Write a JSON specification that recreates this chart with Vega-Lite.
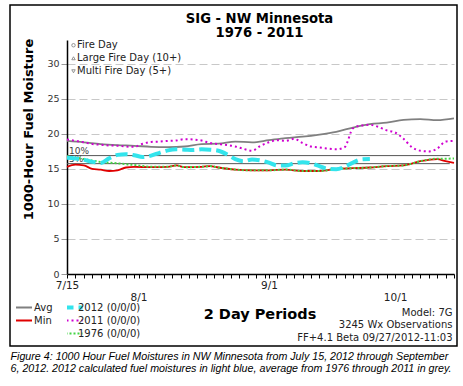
{
  "$schema": "https://vega.github.io/schema/vega-lite/v6.json",
  "width": 447,
  "height": 341,
  "autosize": {"type": "none"},
  "padding": {"left": 10, "top": 5, "right": 6, "bottom": 40},
  "background": "white",
  "title": {
    "text": ["SIG - NW Minnesota", "1976 - 2011"],
    "anchor": "middle",
    "frame": "group",
    "dx": 26,
    "offset": -35,
    "baseline": "top",
    "font": "DejaVu Sans",
    "fontSize": 13.2,
    "fontWeight": "bold",
    "color": "black",
    "lineHeight": 13.5
  },
  "datasets": {
    "thresholds": [
      {"label": "10%", "value": 16.9},
      {"label": "5%", "value": 15.75}
    ],
    "moisture": [
      {"series": "Avg", "date": "2012-07-15", "value": 19.0},
      {"series": "Avg", "date": "2012-07-19", "value": 18.8},
      {"series": "Avg", "date": "2012-07-23", "value": 18.55},
      {"series": "Avg", "date": "2012-07-27", "value": 18.4},
      {"series": "Avg", "date": "2012-07-31", "value": 18.3},
      {"series": "Avg", "date": "2012-08-04", "value": 18.15},
      {"series": "Avg", "date": "2012-08-08", "value": 18.1},
      {"series": "Avg", "date": "2012-08-12", "value": 18.2},
      {"series": "Avg", "date": "2012-08-16", "value": 18.55},
      {"series": "Avg", "date": "2012-08-20", "value": 18.6},
      {"series": "Avg", "date": "2012-08-24", "value": 18.9},
      {"series": "Avg", "date": "2012-08-28", "value": 18.8},
      {"series": "Avg", "date": "2012-09-01", "value": 19.1},
      {"series": "Avg", "date": "2012-09-05", "value": 19.4},
      {"series": "Avg", "date": "2012-09-09", "value": 19.6},
      {"series": "Avg", "date": "2012-09-13", "value": 19.9},
      {"series": "Avg", "date": "2012-09-17", "value": 20.3},
      {"series": "Avg", "date": "2012-09-21", "value": 20.9},
      {"series": "Avg", "date": "2012-09-25", "value": 21.4},
      {"series": "Avg", "date": "2012-09-29", "value": 21.6},
      {"series": "Avg", "date": "2012-10-03", "value": 22.0},
      {"series": "Avg", "date": "2012-10-07", "value": 22.1},
      {"series": "Avg", "date": "2012-10-11", "value": 21.95},
      {"series": "Avg", "date": "2012-10-15", "value": 22.2},

      {"series": "Min", "date": "2012-07-15", "value": 15.3},
      {"series": "Min", "date": "2012-07-17", "value": 15.6},
      {"series": "Min", "date": "2012-07-19", "value": 15.5},
      {"series": "Min", "date": "2012-07-21", "value": 15.0},
      {"series": "Min", "date": "2012-07-23", "value": 14.9},
      {"series": "Min", "date": "2012-07-25", "value": 14.7},
      {"series": "Min", "date": "2012-07-27", "value": 14.8},
      {"series": "Min", "date": "2012-07-29", "value": 15.2},
      {"series": "Min", "date": "2012-07-31", "value": 15.3},
      {"series": "Min", "date": "2012-08-04", "value": 15.25},
      {"series": "Min", "date": "2012-08-08", "value": 15.3},
      {"series": "Min", "date": "2012-08-10", "value": 15.5},
      {"series": "Min", "date": "2012-08-12", "value": 15.25},
      {"series": "Min", "date": "2012-08-16", "value": 15.3},
      {"series": "Min", "date": "2012-08-18", "value": 15.4},
      {"series": "Min", "date": "2012-08-20", "value": 15.2},
      {"series": "Min", "date": "2012-08-24", "value": 14.9},
      {"series": "Min", "date": "2012-08-28", "value": 14.8},
      {"series": "Min", "date": "2012-09-01", "value": 14.8},
      {"series": "Min", "date": "2012-09-05", "value": 14.9},
      {"series": "Min", "date": "2012-09-09", "value": 14.7},
      {"series": "Min", "date": "2012-09-13", "value": 14.7},
      {"series": "Min", "date": "2012-09-17", "value": 15.0},
      {"series": "Min", "date": "2012-09-21", "value": 15.1},
      {"series": "Min", "date": "2012-09-25", "value": 15.2},
      {"series": "Min", "date": "2012-09-29", "value": 15.4},
      {"series": "Min", "date": "2012-10-03", "value": 15.5},
      {"series": "Min", "date": "2012-10-07", "value": 16.1},
      {"series": "Min", "date": "2012-10-11", "value": 16.4},
      {"series": "Min", "date": "2012-10-13", "value": 16.1},
      {"series": "Min", "date": "2012-10-15", "value": 15.85},

      {"series": "1976 (0/0/0)", "date": "2012-07-15", "value": 16.8},
      {"series": "1976 (0/0/0)", "date": "2012-07-19", "value": 16.4},
      {"series": "1976 (0/0/0)", "date": "2012-07-23", "value": 16.0},
      {"series": "1976 (0/0/0)", "date": "2012-07-27", "value": 15.8},
      {"series": "1976 (0/0/0)", "date": "2012-07-31", "value": 15.55},
      {"series": "1976 (0/0/0)", "date": "2012-08-04", "value": 15.3},
      {"series": "1976 (0/0/0)", "date": "2012-08-08", "value": 15.3},
      {"series": "1976 (0/0/0)", "date": "2012-08-10", "value": 15.5},
      {"series": "1976 (0/0/0)", "date": "2012-08-12", "value": 15.25},
      {"series": "1976 (0/0/0)", "date": "2012-08-16", "value": 15.3},
      {"series": "1976 (0/0/0)", "date": "2012-08-18", "value": 15.4},
      {"series": "1976 (0/0/0)", "date": "2012-08-20", "value": 15.2},
      {"series": "1976 (0/0/0)", "date": "2012-08-24", "value": 14.9},
      {"series": "1976 (0/0/0)", "date": "2012-08-28", "value": 14.8},
      {"series": "1976 (0/0/0)", "date": "2012-09-01", "value": 14.8},
      {"series": "1976 (0/0/0)", "date": "2012-09-05", "value": 14.9},
      {"series": "1976 (0/0/0)", "date": "2012-09-09", "value": 14.7},
      {"series": "1976 (0/0/0)", "date": "2012-09-13", "value": 14.7},
      {"series": "1976 (0/0/0)", "date": "2012-09-17", "value": 15.0},
      {"series": "1976 (0/0/0)", "date": "2012-09-21", "value": 15.1},
      {"series": "1976 (0/0/0)", "date": "2012-09-25", "value": 15.2},
      {"series": "1976 (0/0/0)", "date": "2012-09-29", "value": 15.4},
      {"series": "1976 (0/0/0)", "date": "2012-10-03", "value": 15.5},
      {"series": "1976 (0/0/0)", "date": "2012-10-07", "value": 16.1},
      {"series": "1976 (0/0/0)", "date": "2012-10-11", "value": 16.45},
      {"series": "1976 (0/0/0)", "date": "2012-10-13", "value": 16.45},
      {"series": "1976 (0/0/0)", "date": "2012-10-15", "value": 16.5},

      {"series": "2011 (0/0/0)", "date": "2012-07-15", "value": 19.2},
      {"series": "2011 (0/0/0)", "date": "2012-07-17", "value": 19.0},
      {"series": "2011 (0/0/0)", "date": "2012-07-19", "value": 18.8},
      {"series": "2011 (0/0/0)", "date": "2012-07-21", "value": 18.55},
      {"series": "2011 (0/0/0)", "date": "2012-07-23", "value": 18.45},
      {"series": "2011 (0/0/0)", "date": "2012-07-25", "value": 18.35},
      {"series": "2011 (0/0/0)", "date": "2012-07-27", "value": 18.3},
      {"series": "2011 (0/0/0)", "date": "2012-07-29", "value": 18.2},
      {"series": "2011 (0/0/0)", "date": "2012-07-31", "value": 18.15},
      {"series": "2011 (0/0/0)", "date": "2012-08-02", "value": 18.6},
      {"series": "2011 (0/0/0)", "date": "2012-08-04", "value": 18.85},
      {"series": "2011 (0/0/0)", "date": "2012-08-06", "value": 18.9},
      {"series": "2011 (0/0/0)", "date": "2012-08-08", "value": 19.0},
      {"series": "2011 (0/0/0)", "date": "2012-08-10", "value": 19.05},
      {"series": "2011 (0/0/0)", "date": "2012-08-12", "value": 19.25},
      {"series": "2011 (0/0/0)", "date": "2012-08-14", "value": 19.2},
      {"series": "2011 (0/0/0)", "date": "2012-08-16", "value": 19.05},
      {"series": "2011 (0/0/0)", "date": "2012-08-18", "value": 18.7},
      {"series": "2011 (0/0/0)", "date": "2012-08-20", "value": 18.55},
      {"series": "2011 (0/0/0)", "date": "2012-08-22", "value": 18.4},
      {"series": "2011 (0/0/0)", "date": "2012-08-24", "value": 18.2},
      {"series": "2011 (0/0/0)", "date": "2012-08-26", "value": 17.85},
      {"series": "2011 (0/0/0)", "date": "2012-08-28", "value": 17.6},
      {"series": "2011 (0/0/0)", "date": "2012-08-30", "value": 18.3},
      {"series": "2011 (0/0/0)", "date": "2012-09-01", "value": 18.8},
      {"series": "2011 (0/0/0)", "date": "2012-09-03", "value": 19.1},
      {"series": "2011 (0/0/0)", "date": "2012-09-05", "value": 19.0},
      {"series": "2011 (0/0/0)", "date": "2012-09-07", "value": 19.3},
      {"series": "2011 (0/0/0)", "date": "2012-09-09", "value": 18.7},
      {"series": "2011 (0/0/0)", "date": "2012-09-11", "value": 18.2},
      {"series": "2011 (0/0/0)", "date": "2012-09-13", "value": 18.05},
      {"series": "2011 (0/0/0)", "date": "2012-09-15", "value": 17.9},
      {"series": "2011 (0/0/0)", "date": "2012-09-17", "value": 17.8},
      {"series": "2011 (0/0/0)", "date": "2012-09-19", "value": 18.1},
      {"series": "2011 (0/0/0)", "date": "2012-09-21", "value": 20.8},
      {"series": "2011 (0/0/0)", "date": "2012-09-23", "value": 21.2},
      {"series": "2011 (0/0/0)", "date": "2012-09-25", "value": 21.3},
      {"series": "2011 (0/0/0)", "date": "2012-09-27", "value": 21.0},
      {"series": "2011 (0/0/0)", "date": "2012-09-29", "value": 20.5},
      {"series": "2011 (0/0/0)", "date": "2012-10-01", "value": 20.2},
      {"series": "2011 (0/0/0)", "date": "2012-10-03", "value": 19.3},
      {"series": "2011 (0/0/0)", "date": "2012-10-05", "value": 18.1},
      {"series": "2011 (0/0/0)", "date": "2012-10-07", "value": 17.6},
      {"series": "2011 (0/0/0)", "date": "2012-10-09", "value": 17.5},
      {"series": "2011 (0/0/0)", "date": "2012-10-11", "value": 17.9},
      {"series": "2011 (0/0/0)", "date": "2012-10-13", "value": 18.9},
      {"series": "2011 (0/0/0)", "date": "2012-10-15", "value": 19.0},

      {"series": "2012 (0/0/0)", "date": "2012-07-15", "value": 16.6},
      {"series": "2012 (0/0/0)", "date": "2012-07-17", "value": 16.5},
      {"series": "2012 (0/0/0)", "date": "2012-07-19", "value": 16.3},
      {"series": "2012 (0/0/0)", "date": "2012-07-21", "value": 16.0},
      {"series": "2012 (0/0/0)", "date": "2012-07-23", "value": 15.85},
      {"series": "2012 (0/0/0)", "date": "2012-07-25", "value": 16.5},
      {"series": "2012 (0/0/0)", "date": "2012-07-27", "value": 17.0},
      {"series": "2012 (0/0/0)", "date": "2012-07-29", "value": 17.1},
      {"series": "2012 (0/0/0)", "date": "2012-07-31", "value": 16.95},
      {"series": "2012 (0/0/0)", "date": "2012-08-02", "value": 16.7},
      {"series": "2012 (0/0/0)", "date": "2012-08-04", "value": 16.9},
      {"series": "2012 (0/0/0)", "date": "2012-08-06", "value": 17.3},
      {"series": "2012 (0/0/0)", "date": "2012-08-08", "value": 17.65},
      {"series": "2012 (0/0/0)", "date": "2012-08-10", "value": 17.8},
      {"series": "2012 (0/0/0)", "date": "2012-08-12", "value": 17.75},
      {"series": "2012 (0/0/0)", "date": "2012-08-14", "value": 17.7},
      {"series": "2012 (0/0/0)", "date": "2012-08-16", "value": 17.8},
      {"series": "2012 (0/0/0)", "date": "2012-08-18", "value": 17.75},
      {"series": "2012 (0/0/0)", "date": "2012-08-20", "value": 17.6},
      {"series": "2012 (0/0/0)", "date": "2012-08-22", "value": 17.1},
      {"series": "2012 (0/0/0)", "date": "2012-08-24", "value": 16.4},
      {"series": "2012 (0/0/0)", "date": "2012-08-26", "value": 16.1},
      {"series": "2012 (0/0/0)", "date": "2012-08-28", "value": 16.35},
      {"series": "2012 (0/0/0)", "date": "2012-08-30", "value": 16.2},
      {"series": "2012 (0/0/0)", "date": "2012-09-01", "value": 15.9},
      {"series": "2012 (0/0/0)", "date": "2012-09-03", "value": 15.5},
      {"series": "2012 (0/0/0)", "date": "2012-09-05", "value": 15.5},
      {"series": "2012 (0/0/0)", "date": "2012-09-07", "value": 15.8},
      {"series": "2012 (0/0/0)", "date": "2012-09-09", "value": 15.95},
      {"series": "2012 (0/0/0)", "date": "2012-09-11", "value": 15.8},
      {"series": "2012 (0/0/0)", "date": "2012-09-13", "value": 15.4},
      {"series": "2012 (0/0/0)", "date": "2012-09-15", "value": 15.0},
      {"series": "2012 (0/0/0)", "date": "2012-09-17", "value": 14.95},
      {"series": "2012 (0/0/0)", "date": "2012-09-19", "value": 15.3},
      {"series": "2012 (0/0/0)", "date": "2012-09-21", "value": 15.9},
      {"series": "2012 (0/0/0)", "date": "2012-09-23", "value": 16.35},
      {"series": "2012 (0/0/0)", "date": "2012-09-25", "value": 16.4}
    ]
  },
  "layer": [
    {
      "data": {"name": "thresholds"},
      "mark": {"type": "rule", "color": "#555555", "strokeWidth": 1},
      "encoding": {
        "x": {
          "datum": {"year": 2012, "month": 7, "date": 15, "utc": true},
          "type": "temporal",
          "axis": {
            "orient": "bottom",
            "offset": -72,
            "domain": false,
            "ticks": false,
            "labels": false,
            "grid": false,
            "title": [
              "Figure 4:  1000 Hour Fuel Moistures in NW Minnesota from July 15, 2012 through September",
              "6, 2012.  2012 calculated fuel moistures in light blue, average from 1976 through 2011 in grey."
            ],
            "titleX": 0,
            "titleY": 77,
            "titleAlign": "left",
            "titleAnchor": "start",
            "titleBaseline": "top",
            "titleFont": "Liberation Sans",
            "titleFontSize": 10.7,
            "titleFontStyle": "italic",
            "titleFontWeight": "normal",
            "titleColor": "black",
            "titleLineHeight": 12.5,
            "titleLimit": 0
          }
        },
        "x2": {"datum": {"year": 2012, "month": 10, "date": 14, "utc": true}},
        "y": {
          "field": "value",
          "type": "quantitative",
          "axis": {
            "orient": "right",
            "offset": -3,
            "domain": false,
            "ticks": false,
            "labels": false,
            "grid": false,
            "title": ["Model: 7G", "3245 Wx Observations", "FF+4.1 Beta 09/27/2012-11:03"],
            "titleAngle": 0,
            "titleAlign": "right",
            "titleBaseline": "top",
            "titleX": -2,
            "titleY": 302,
            "titleFont": "DejaVu Sans",
            "titleFontSize": 10,
            "titleFontWeight": "normal",
            "titleColor": "#222222",
            "titleLineHeight": 12.5,
            "titleLimit": 0
          }
        }
      }
    },
    {
      "data": {"name": "thresholds"},
      "mark": {"type": "text", "align": "left", "baseline": "bottom", "dx": 2, "font": "DejaVu Sans", "fontSize": 9, "color": "#444444"},
      "encoding": {
        "x": {"datum": {"year": 2012, "month": 7, "date": 15, "utc": true}, "type": "temporal", "axis": null},
        "y": {"field": "value", "type": "quantitative", "axis": null},
        "text": {"field": "label"}
      }
    },
    {
      "data": {"name": "moisture"},
      "transform": [{"filter": {"field": "series", "oneOf": ["Avg", "Min"]}}],
      "mark": {"type": "line", "interpolate": "monotone", "strokeWidth": 1.8},
      "encoding": {
        "x": {
          "field": "date",
          "type": "temporal",
          "scale": {
            "type": "utc",
            "domain": [{"year": 2012, "month": 7, "date": 15, "utc": true}, {"year": 2012, "month": 10, "date": 15, "utc": true}],
            "range": [57, 444]
          },
          "axis": {
            "orient": "bottom",
            "offset": -72,
            "tickCount": {"interval": "day", "step": 2},
            "labelExpr": "utcdate(datum.value) == 1 || (utcmonth(datum.value) == 6 && utcdate(datum.value) == 15) ? utcFormat(datum.value, '%-m/%-d') : ''",
            "labelOverlap": false,
            "labelFlush": false,
            "labelBound": false,
            "labelFont": "DejaVu Sans",
            "labelFontSize": 10.5,
            "labelColor": "#222222",
            "labelPadding": {"condition": {"test": "utcdate(datum.value) == 1 && utcmonth(datum.value) != 8", "value": 14}, "value": 2},
            "tickSize": 4,
            "tickColor": "black",
            "tickWidth": 1,
            "domainColor": "black",
            "domainWidth": 1.5,
            "grid": false,
            "title": "2 Day Periods",
            "titleX": 249.5,
            "titleY": 40,
            "titleAlign": "center",
            "titleBaseline": "middle",
            "titleFont": "DejaVu Sans",
            "titleFontSize": 14.5,
            "titleFontWeight": "bold",
            "titleColor": "black"
          }
        },
        "y": {
          "field": "value",
          "type": "quantitative",
          "scale": {"domain": [0, 33.4], "range": [269, 35], "nice": false, "zero": false},
          "axis": {
            "orient": "left",
            "offset": -57,
            "values": [0, 5, 10, 15, 20, 25, 30],
            "grid": true,
            "gridColor": "#c8c8c8",
            "gridDash": [8, 4],
            "gridWidth": 1,
            "domainColor": "black",
            "domainWidth": 1.5,
            "tickSize": 6,
            "tickColor": "#999999",
            "labelFont": "DejaVu Sans",
            "labelFontSize": 9.5,
            "labelColor": "#333333",
            "labelPadding": 2,
            "title": "1000-Hour Fuel Moisture",
            "titleX": -39,
            "titleY": 124,
            "titleAngle": -90,
            "titleAlign": "center",
            "titleBaseline": "middle",
            "titleFont": "DejaVu Sans",
            "titleFontSize": 13,
            "titleFontWeight": "bold",
            "titleColor": "black"
          }
        },
        "color": {
          "field": "series",
          "type": "nominal",
          "scale": {"domain": ["Avg", "Min"], "range": ["#808080", "#e00000"]},
          "legend": {
            "orient": "none",
            "legendX": 5,
            "legendY": 297,
            "title": null,
            "symbolType": "stroke",
            "symbolSize": 256,
            "symbolStrokeWidth": 2,
            "labelOffset": 1,
            "clipHeight": 11,
            "rowPadding": 2,
            "padding": 0,
            "labelFont": "DejaVu Sans",
            "labelFontSize": 10,
            "labelColor": "#222222"
          }
        }
      }
    },
    {
      "data": {"name": "moisture"},
      "transform": [{"filter": {"field": "series", "oneOf": ["2011 (0/0/0)", "1976 (0/0/0)"]}}],
      "mark": {"type": "line", "interpolate": "monotone", "strokeWidth": 2},
      "encoding": {
        "x": {"field": "date", "type": "temporal", "axis": null},
        "y": {"field": "value", "type": "quantitative", "axis": null},
        "stroke": {
          "field": "series",
          "type": "nominal",
          "scale": {"domain": ["2012 (0/0/0)", "2011 (0/0/0)", "1976 (0/0/0)"], "range": ["#33e4ec", "#d000d0", "#44d444"]},
          "legend": {
            "orient": "none",
            "legendX": 57,
            "legendY": 297,
            "title": null,
            "symbolType": "stroke",
            "symbolSize": 441,
            "symbolStrokeWidth": 2,
            "labelOffset": 1,
            "clipHeight": 11,
            "rowPadding": 2,
            "padding": 0,
            "labelFont": "DejaVu Sans",
            "labelFontSize": 10,
            "labelColor": "#222222",
            "encode": {"symbols": {"update": {"strokeWidth": {"signal": "datum.value === '2012 (0/0/0)' ? 4 : 2"}}}}
          }
        },
        "strokeDash": {
          "field": "series",
          "type": "nominal",
          "scale": {"domain": ["2012 (0/0/0)", "2011 (0/0/0)", "1976 (0/0/0)"], "range": [[12, 5], [2, 3], [2, 2]]},
          "legend": {
            "orient": "none",
            "legendX": 57,
            "legendY": 297,
            "title": null,
            "symbolType": "stroke",
            "symbolSize": 441,
            "symbolStrokeWidth": 2,
            "labelOffset": 1,
            "clipHeight": 11,
            "rowPadding": 2,
            "padding": 0,
            "labelFont": "DejaVu Sans",
            "labelFontSize": 10,
            "labelColor": "#222222",
            "encode": {"symbols": {"update": {"strokeWidth": {"signal": "datum.value === '2012 (0/0/0)' ? 4 : 2"}}}}
          }
        }
      }
    },
    {
      "data": {"name": "moisture"},
      "transform": [{"filter": {"field": "series", "equal": "2012 (0/0/0)"}}],
      "mark": {"type": "line", "interpolate": "monotone", "strokeWidth": 4},
      "encoding": {
        "x": {"field": "date", "type": "temporal", "axis": null},
        "y": {"field": "value", "type": "quantitative", "axis": null},
        "stroke": {"field": "series", "type": "nominal"},
        "strokeDash": {"field": "series", "type": "nominal"}
      }
    },
    {
      "data": {"values": []},
      "mark": {"type": "point", "color": "#444444", "strokeWidth": 0.8, "size": 12},
      "encoding": {
        "x": {"field": "date", "type": "temporal", "axis": null},
        "y": {"field": "value", "type": "quantitative", "axis": null},
        "shape": {
          "field": "event",
          "type": "nominal",
          "scale": {"domain": ["Fire Day", "Large Fire Day (10+)", "Multi Fire Day (5+)"], "range": ["circle", "triangle-up", "triangle-down"]},
          "legend": {
            "orient": "none",
            "legendX": 58.5,
            "legendY": 35,
            "title": null,
            "symbolSize": 12,
            "symbolStrokeColor": "#444444",
            "symbolStrokeWidth": 0.8,
            "labelOffset": -1.5,
            "clipHeight": 10.5,
            "rowPadding": 2,
            "padding": 0,
            "labelFont": "DejaVu Sans",
            "labelFontSize": 10,
            "labelColor": "#222222"
          }
        }
      }
    }
  ],
  "resolve": {"axis": {"x": "independent", "y": "independent"}},
  "config": {
    "view": {"stroke": "black", "strokeWidth": 1.5},
    "font": "DejaVu Sans"
  }
}
